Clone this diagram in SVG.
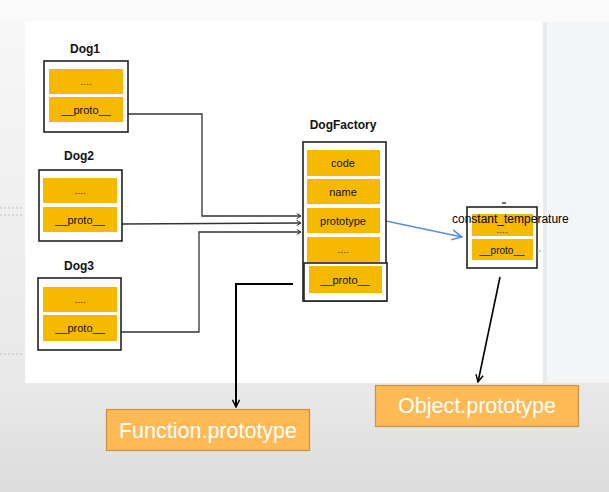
<svg xmlns="http://www.w3.org/2000/svg" width="609" height="492" viewBox="0 0 609 492">
<defs>
<linearGradient id="bottomBg" x1="0" y1="0" x2="0" y2="1">
<stop offset="0" stop-color="#e9e9e9"/>
<stop offset="1" stop-color="#dcdcdc"/>
</linearGradient>
<linearGradient id="leftBg" x1="0" y1="0" x2="0" y2="1">
<stop offset="0" stop-color="#f7f7f7"/>
<stop offset="1" stop-color="#e8e8e8"/>
</linearGradient>
<marker id="openArrow" viewBox="0 0 10 10" refX="9" refY="5" markerWidth="9" markerHeight="9" markerUnits="userSpaceOnUse" orient="auto">
<path d="M1,1 L9,5 L1,9" fill="none" stroke="#000" stroke-width="1.6"/>
</marker>
<marker id="blueArrow" viewBox="0 0 12 12" refX="11" refY="6" markerWidth="12" markerHeight="12" markerUnits="userSpaceOnUse" orient="auto">
<path d="M1,1 L11,6 L1,11" fill="none" stroke="#5a8fe3" stroke-width="1.6"/>
</marker>
<marker id="smallArrow" viewBox="0 0 8 8" refX="6" refY="4" markerWidth="7" markerHeight="7" markerUnits="userSpaceOnUse" orient="auto">
<path d="M1,1 L6,4 L1,7" fill="none" stroke="#333" stroke-width="1.1"/>
</marker>
</defs>
<style>
.frame{fill:#fff;stroke:#222;stroke-width:1.6}
.row{fill:#f6b900}
.title{font-family:"Liberation Sans",Arial,sans-serif;font-weight:bold;font-size:12px;fill:#111;text-anchor:middle}
.field{font-family:"Liberation Sans",Arial,sans-serif;font-size:11px;fill:#111;text-anchor:middle;dominant-baseline:central}
.dots{font-family:"Liberation Sans",Arial,sans-serif;font-size:9px;fill:#222;text-anchor:middle;dominant-baseline:central}
.conn{fill:none;stroke:#333;stroke-width:1.3}
.target{fill:#ffb955;stroke:#cc9040;stroke-width:1.2}
.tlabel{font-family:"Liberation Sans",Arial,sans-serif;font-size:21.5px;fill:#fff;text-anchor:middle}
</style>

<!-- background -->
<rect x="0" y="0" width="609" height="492" fill="#fafafa"/>
<rect x="0" y="22" width="25" height="361" fill="url(#leftBg)"/>
<rect x="25" y="22" width="518" height="361" fill="#ffffff"/>
<rect x="543" y="22" width="66" height="361" fill="#f4f5f7"/>
<rect x="543" y="22" width="4" height="361" fill="#e9eaec"/>
<rect x="0" y="383" width="609" height="109" fill="url(#bottomBg)"/>
<g stroke="#bdbdbd" stroke-width="1" stroke-dasharray="2,2">
<line x1="0" y1="208" x2="24" y2="208"/>
<line x1="0" y1="215" x2="24" y2="215"/>
<line x1="0" y1="354" x2="24" y2="354"/>
</g>

<g id="connectors">
<path class="conn" d="M128,114 H202 V216 H301" marker-end="url(#smallArrow)"/>
<path class="conn" d="M122,224 L301,223" marker-end="url(#smallArrow)"/>
<path class="conn" d="M121,332 H199 V232 H301" marker-end="url(#smallArrow)"/>
<path d="M386,221 L462,237" fill="none" stroke="#5a8fe3" stroke-width="1.6" marker-end="url(#blueArrow)"/>
<path d="M293,284 H236 V407" fill="none" stroke="#000" stroke-width="2" marker-end="url(#openArrow)"/>
<path d="M500,277 L478,382" fill="none" stroke="#000" stroke-width="1.6" marker-end="url(#openArrow)"/>
</g>

<g id="dog1">
<text class="title" x="85" y="53">Dog1</text>
<rect class="frame" x="44" y="61" width="84" height="71"/>
<rect class="row" x="49" y="69" width="74" height="25"/>
<text class="dots" x="86" y="82">….</text>
<rect class="row" x="49" y="97" width="74" height="25"/>
<text class="field" x="86" y="110">__proto__</text>
</g>

<g id="dog2">
<text class="title" x="79" y="160">Dog2</text>
<rect class="frame" x="39" y="170" width="83" height="71"/>
<rect class="row" x="43" y="178" width="74" height="25"/>
<text class="dots" x="80" y="191">….</text>
<rect class="row" x="43" y="207" width="74" height="25"/>
<text class="field" x="80" y="220">__proto__</text>
</g>

<g id="dog3">
<text class="title" x="79" y="270">Dog3</text>
<rect class="frame" x="38" y="278" width="83" height="72"/>
<rect class="row" x="43" y="287" width="74" height="25"/>
<text class="dots" x="80" y="300">….</text>
<rect class="row" x="43" y="315" width="74" height="26"/>
<text class="field" x="80" y="328">__proto__</text>
</g>

<g id="dogfactory">
<text class="title" x="343" y="129">DogFactory</text>
<rect class="frame" x="303" y="142" width="83" height="159"/>
<rect class="row" x="307" y="150" width="73" height="26"/>
<text class="field" x="343" y="163">code</text>
<rect class="row" x="307" y="179" width="73" height="25"/>
<text class="field" x="343" y="192">name</text>
<rect class="row" x="307" y="208" width="73" height="25"/>
<text class="field" x="343" y="221">prototype</text>
<rect class="row" x="307" y="237" width="73" height="25"/>
<text class="dots" x="343" y="250">….</text>
<rect class="frame" x="304" y="263" width="83" height="38"/>
<rect class="row" x="309" y="266" width="73" height="27"/>
<text class="field" x="345" y="280">__proto__</text>
</g>

<g id="constant_temperature">
<line x1="502" y1="203" x2="506" y2="203" stroke="#111" stroke-width="1.2"/>
<rect class="frame" x="467" y="207" width="70" height="61"/>
<rect class="row" x="472" y="214" width="61" height="22"/>
<text class="dots" x="502" y="230">….</text>
<rect class="row" x="472" y="239" width="61" height="21"/>
<text class="field" x="502" y="250" style="font-size:10px">__proto__</text>
<line x1="537" y1="251" x2="541" y2="251" stroke="#aaa" stroke-width="1"/>
<text x="452" y="223" style="font-family:'Liberation Sans',Arial,sans-serif;font-size:12px;fill:#000">constant_temperature</text>
</g>

<g id="function_prototype">
<rect class="target" x="106.5" y="409.5" width="203" height="41"/>
<text class="tlabel" x="208" y="438">Function.prototype</text>
</g>

<g id="object_prototype">
<rect class="target" x="375.5" y="385.5" width="203" height="41"/>
<text class="tlabel" x="477" y="413">Object.prototype</text>
</g>
</svg>
